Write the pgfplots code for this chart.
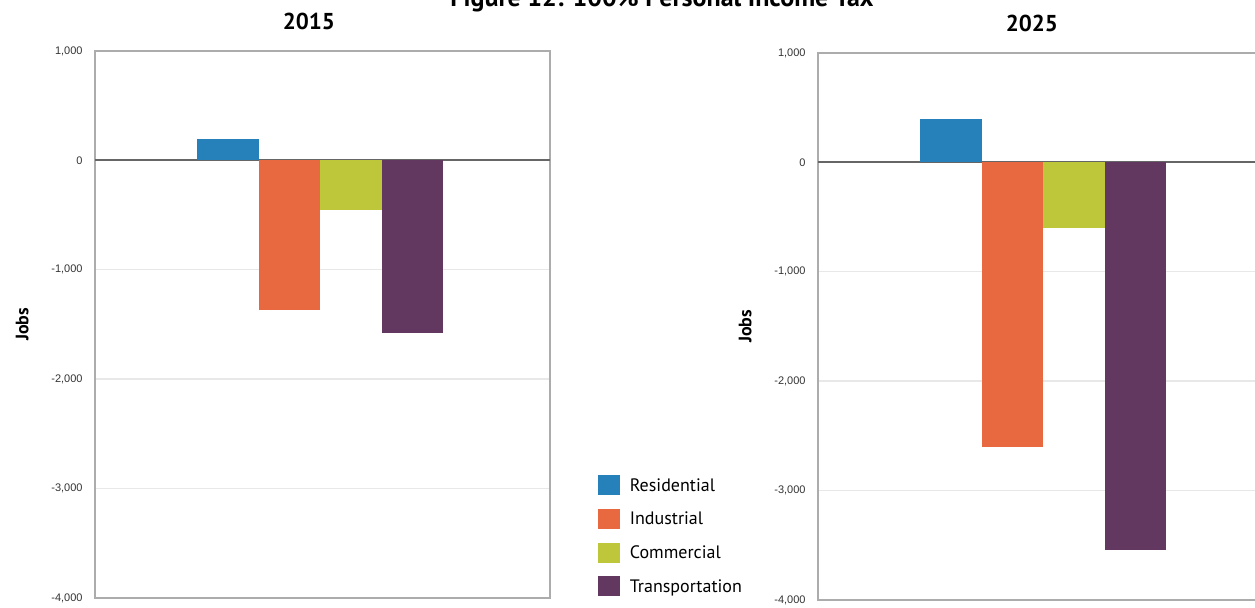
\documentclass[border=0pt]{standalone}
\usepackage{fontspec}
\setmainfont{PT Sans}
\newfontfamily\tickfont{Liberation Sans}
\usepackage{pgfplots}
\pgfplotsset{compat=1.18}
\definecolor{cRes}{RGB}{38,128,185}
\definecolor{cInd}{RGB}{232,104,64}
\definecolor{cCom}{RGB}{190,198,58}
\definecolor{cTrn}{RGB}{98,56,96}
\pgfplotsset{
  panel/.style={
    scale only axis, width=227.5pt, height=273.5pt,
    xmin=0, xmax=455, ymin=-4000, ymax=1000,
    ytick={-4000,-3000,-2000,-1000,0,1000},
    xtick=\empty,
    major tick length=0pt,
    ymajorgrids, grid style={gray!18, line width=0.7pt},
    axis line style={gray!65, line width=0.6pt},
    extra y ticks={0}, extra y tick labels={},
    extra y tick style={grid style={black!60, line width=1pt}},
    yticklabel style={font=\tickfont\fontsize{5.5}{6}\selectfont, inner sep=0pt, xshift=-6pt, text=black!80},
    /pgf/number format/.cd, 1000 sep={,}, assume math mode=true, /pgfplots/.cd,
    ylabel={Jobs},
    ylabel style={font=\bfseries\fontsize{9}{10}\selectfont, at={(axis description cs:-0.16,0.5)}, anchor=center},
    title style={font=\bfseries\fontsize{11.5}{12}\selectfont, at={(axis description cs:0.47,1)}, anchor=base, yshift=4.5pt},
  },
  bars/.style={ybar, bar width=61.5, bar shift=0pt, draw=none, fill=#1,
    legend image code/.code={\fill[#1] (0pt,-4.5pt) rectangle (11pt,5.5pt);}},
}
\begin{document}
\begin{tikzpicture}
\path[use as bounding box] (0,0) rectangle (627.5pt,304pt);
\clip (0,0) rectangle (627.5pt,304pt);
\node[anchor=base, font=\bfseries\fontsize{13}{14}\selectfont] at (331pt,300.5pt) {Figure 12: 100\% Personal Income Tax};
\begin{axis}[panel, at={(47.5pt,5pt)}, anchor=south west, title={2015},
  legend style={at={(1.0925,0.234)}, anchor=north west, draw=none, fill=none,
    font=\fontsize{9}{10}\selectfont, cells={anchor=west}, row sep=4.95pt,
    /tikz/every odd column/.append style={column sep=2.7pt}}]
\addplot[bars=cRes] coordinates {(133,195)};
\addlegendentry{Residential}
\addplot[bars=cInd] coordinates {(194.5,-1370)};
\addlegendentry{Industrial}
\addplot[bars=cCom] coordinates {(256,-450)};
\addlegendentry{Commercial}
\addplot[bars=cTrn] coordinates {(317.5,-1580)};
\addlegendentry{Transportation}
\end{axis}
\begin{axis}[panel, at={(409pt,4pt)}, anchor=south west, title={2025}]
\addplot[bars=cRes] coordinates {(133,400)};
\addplot[bars=cInd] coordinates {(194.5,-2600)};
\addplot[bars=cCom] coordinates {(256,-600)};
\addplot[bars=cTrn] coordinates {(317.5,-3540)};
\end{axis}
\end{tikzpicture}
\end{document}
